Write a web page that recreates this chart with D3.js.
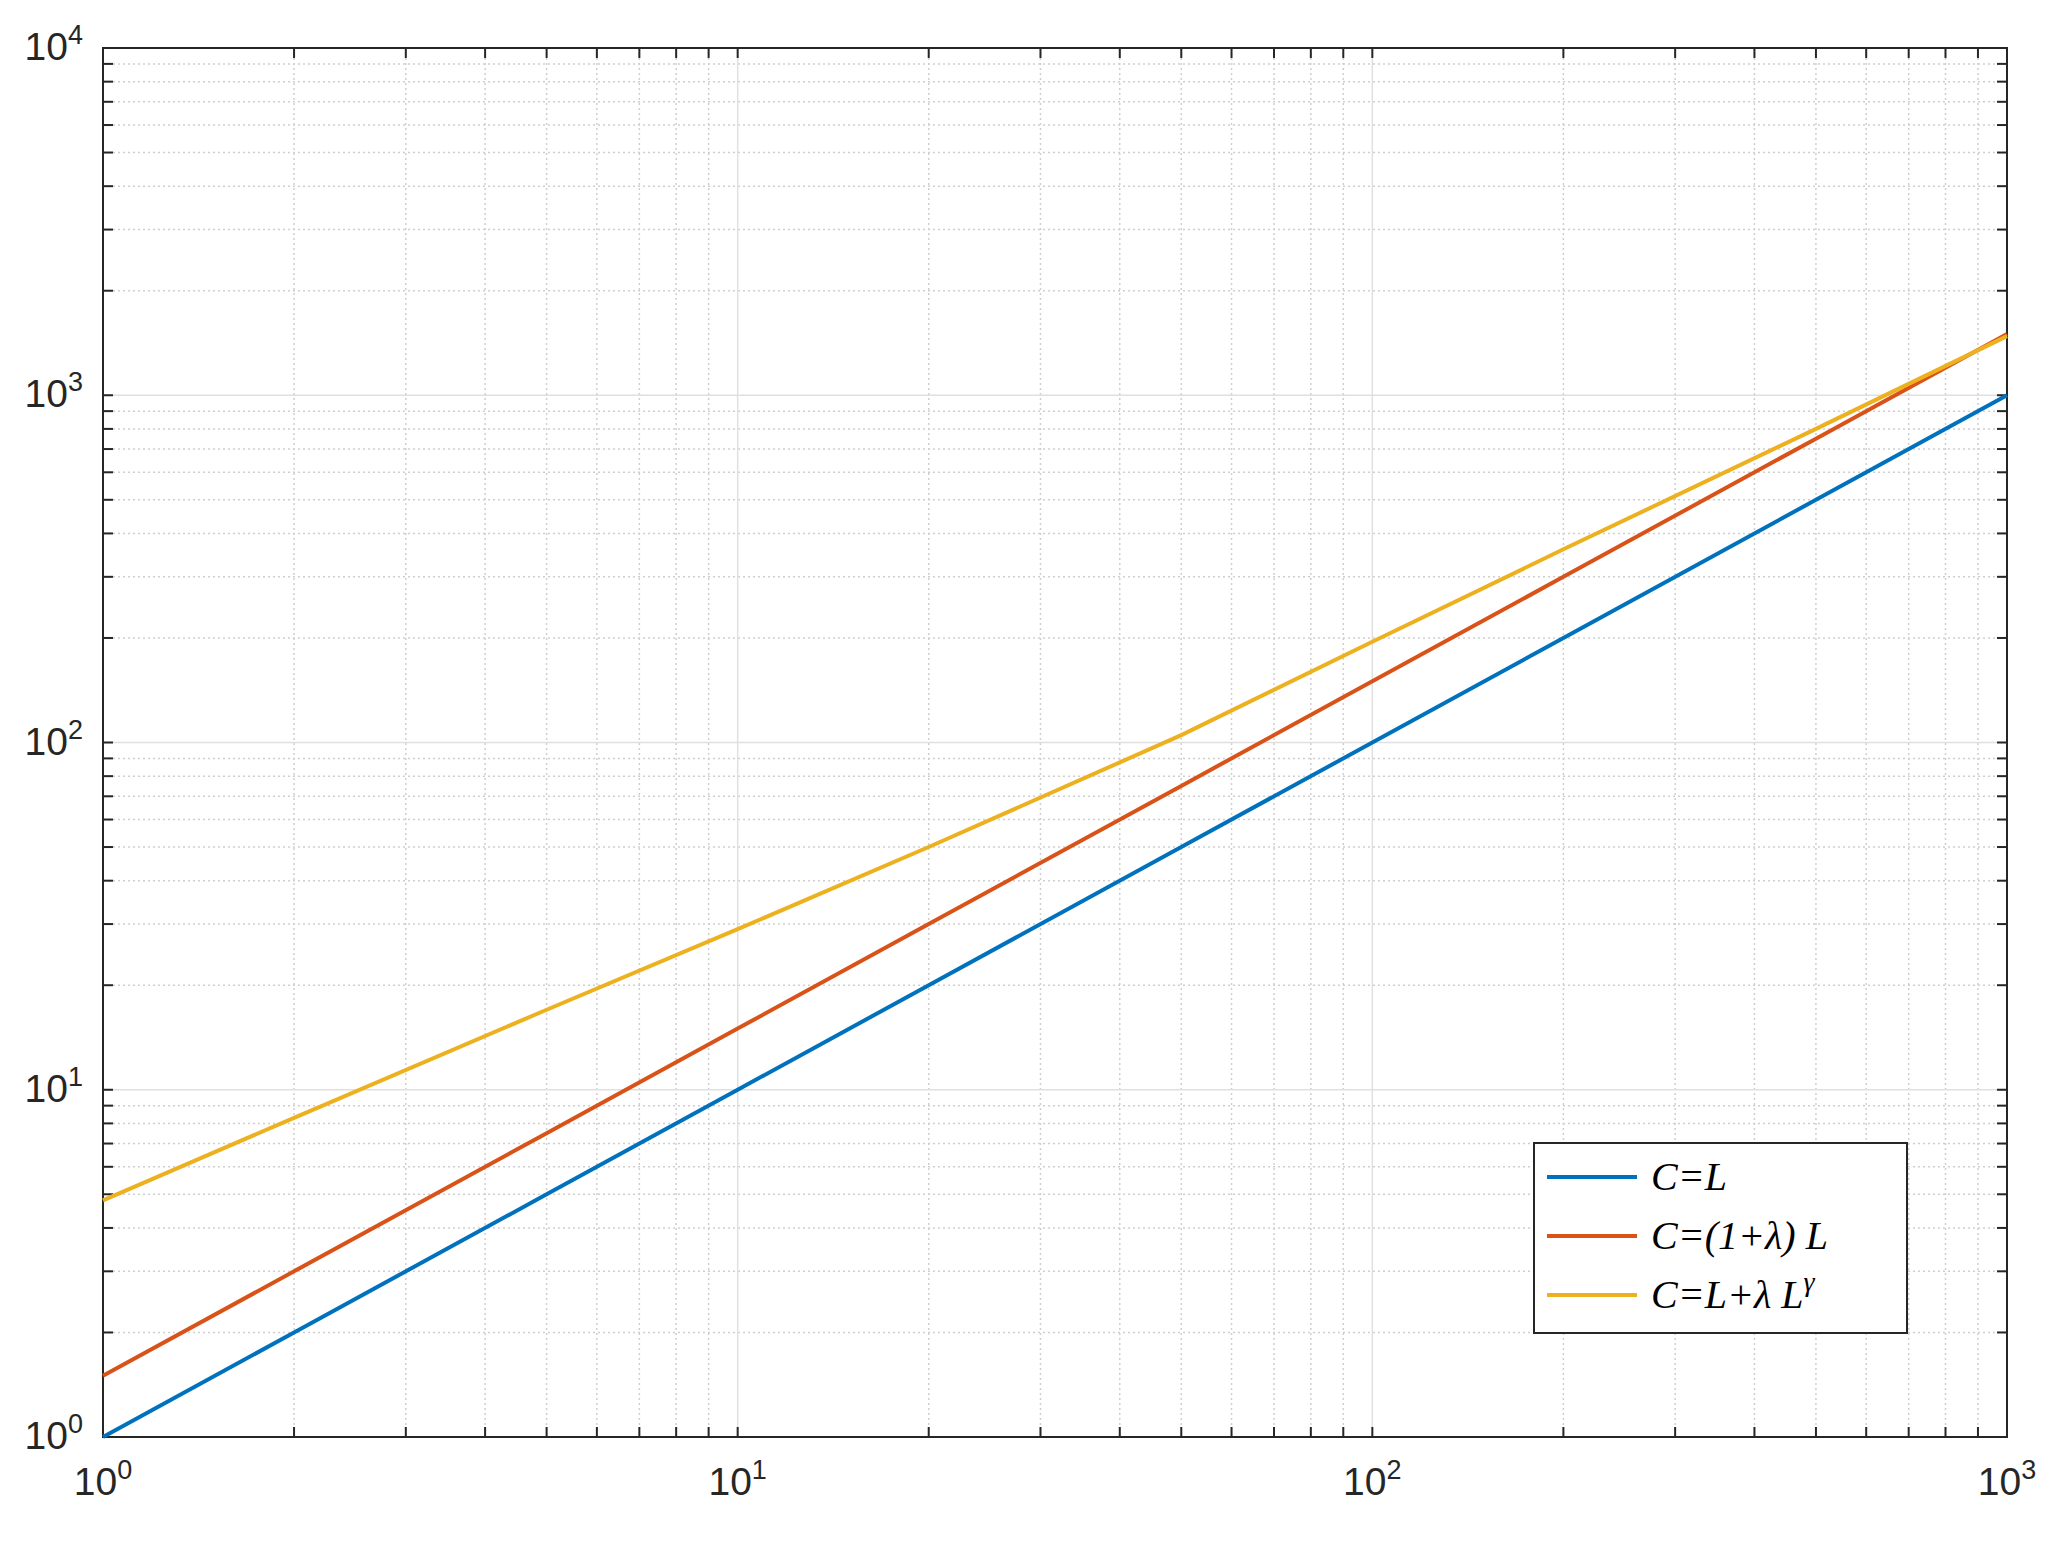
<!DOCTYPE html>
<html><head><meta charset="utf-8">
<script src="https://cdn.jsdelivr.net/npm/d3@7"></script>
<style>body{margin:0;background:#fff}</style>
</head><body><div id="chart"></div>
<script>
const L = [1, 2, 5, 10, 20, 50, 100, 200, 500, 1000];
const cLinear = [1, 2, 5, 10, 20, 50, 100, 200, 500, 1000];
const cScaled = [1.5, 3, 7.5, 15, 30, 75, 150, 300, 750, 1500];
const cPower = [4.8, 8.3, 17, 29, 50, 105, 195, 360, 800, 1480];
const seriesNames = ["C=L", "C=(1+λ) L", "C=L+λ L"];
const colors = ["#0072bd", "#d95319", "#edb120"];
const xTicks = [1, 10, 100, 1000];
const yTicks = [1, 10, 100, 1000, 10000];

const W = 2060, H = 1550;
const m = {left: 103, top: 48, right: 53, bottom: 113};
const pw = W - m.left - m.right, ph = H - m.top - m.bottom;

const svg = d3.select("#chart").append("svg").attr("width", W).attr("height", H);
const g = svg.append("g").attr("transform", `translate(${m.left},${m.top})`);

const x = d3.scaleLog().domain([1, 1000]).range([0, pw]);
const y = d3.scaleLog().domain([1, 10000]).range([ph, 0]);

// minor values
const minor = (lo, hi) => {
  let r = [];
  for (let e = lo; e < hi; e *= 10) for (let k = 2; k < 10; k++) r.push(e * k);
  return r;
};
const xMinor = minor(1, 1000), yMinor = minor(1, 10000);

// grid
g.selectAll(".gxm").data(xMinor).enter().append("line")
  .attr("x1", d => x(d)).attr("x2", d => x(d)).attr("y1", 0).attr("y2", ph)
  .attr("stroke", "#cfcfcf").attr("stroke-width", 1.5).attr("stroke-dasharray", "2,3");
g.selectAll(".gym").data(yMinor).enter().append("line")
  .attr("y1", d => y(d)).attr("y2", d => y(d)).attr("x1", 0).attr("x2", pw)
  .attr("stroke", "#cfcfcf").attr("stroke-width", 1.5).attr("stroke-dasharray", "2,3");
g.selectAll(".gx").data(xTicks).enter().append("line")
  .attr("x1", d => x(d)).attr("x2", d => x(d)).attr("y1", 0).attr("y2", ph)
  .attr("stroke", "#e0e0e0").attr("stroke-width", 1.5);
g.selectAll(".gy").data(yTicks).enter().append("line")
  .attr("y1", d => y(d)).attr("y2", d => y(d)).attr("x1", 0).attr("x2", pw)
  .attr("stroke", "#e0e0e0").attr("stroke-width", 1.5);

// ticks on all sides, pointing in
const tk = "#262626";
const allX = xTicks.concat(xMinor), allY = yTicks.concat(yMinor);
[[0, -1], [ph, 1]].forEach(([yy, s]) => {
  g.selectAll(null).data(allX).enter().append("line")
    .attr("x1", d => x(d)).attr("x2", d => x(d)).attr("y1", yy).attr("y2", yy - s * (xTicks.includes(d => d) ? 14 : 10))
    .attr("stroke", tk).attr("stroke-width", 2);
});
[[0, 1], [pw, -1]].forEach(([xx, s]) => {
  g.selectAll(null).data(allY).enter().append("line")
    .attr("y1", d => y(d)).attr("y2", d => y(d)).attr("x1", xx).attr("x2", xx + s * 10)
    .attr("stroke", tk).attr("stroke-width", 2);
});
g.append("rect").attr("width", pw).attr("height", ph).attr("fill", "none")
  .attr("stroke", tk).attr("stroke-width", 2);

// tick labels
const xl = g.selectAll(".xl").data(xTicks).enter().append("text")
  .attr("x", d => x(d)).attr("y", ph + 58).attr("text-anchor", "middle")
  .attr("font-family", "Liberation Sans, Arial").attr("font-size", 39).attr("fill", "#262626");
xl.append("tspan").text("10");
xl.append("tspan").attr("dy", -16).attr("font-size", 27).text(d => Math.round(Math.log10(d)));
const yl = g.selectAll(".yl").data(yTicks).enter().append("text")
  .attr("x", -20).attr("y", d => y(d) + 12).attr("text-anchor", "end")
  .attr("font-family", "Liberation Sans, Arial").attr("font-size", 39).attr("fill", "#262626");
yl.append("tspan").text("10");
yl.append("tspan").attr("dy", -16).attr("font-size", 27).text(d => Math.round(Math.log10(d)));

// lines
const line = d3.line().x(d => x(d[0])).y(d => y(d[1]));
[cLinear, cScaled, cPower].forEach((vals, i) => {
  g.append("path").datum(L.map((l, j) => [l, vals[j]]))
    .attr("d", line).attr("fill", "none").attr("stroke", colors[i]).attr("stroke-width", 4);
});

// legend
const lg = svg.append("g").attr("transform", "translate(1534,1143)");
lg.append("rect").attr("width", 373).attr("height", 190).attr("fill", "#fff")
  .attr("stroke", "#262626").attr("stroke-width", 2);
seriesNames.forEach((n, i) => {
  const yy = 34 + i * 59;
  lg.append("line").attr("x1", 13).attr("x2", 103).attr("y1", yy).attr("y2", yy)
    .attr("stroke", colors[i]).attr("stroke-width", 4);
  const t = lg.append("text").attr("x", 117).attr("y", yy + 13)
    .attr("font-family", "Liberation Serif, Times New Roman").attr("font-style", "italic")
    .attr("font-size", 40).attr("fill", "#000").text(n);
  if (i === 2) t.append("tspan").attr("dy", -17).attr("font-size", 28).text("γ");
});
</script></body></html>
